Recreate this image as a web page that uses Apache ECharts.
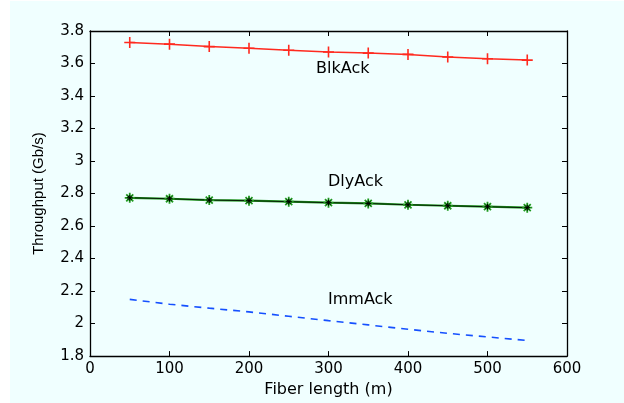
<!DOCTYPE html>
<html>
<head>
<meta charset="utf-8">
<script src="https://cdn.jsdelivr.net/npm/echarts@6/dist/echarts.min.js"></script>
<style>
  html, body { margin: 0; padding: 0; background: #ffffff; }
  #main { position: absolute; left: 10px; top: 1px; width: 614px; height: 402px; }
</style>
</head>
<body>
<div id="main"></div>
<script>
// длина волокна, м
let fiberLength = [50, 100, 150, 200, 250, 300, 350, 400, 450, 500, 550];

// пропускная способность, Гб/с
let blkAck = [3.729, 3.719, 3.704, 3.694, 3.682, 3.671, 3.664, 3.656, 3.640, 3.629, 3.621];
let dlyAck = [2.774, 2.768, 2.760, 2.756, 2.750, 2.744, 2.739, 2.731, 2.725, 2.719, 2.713];
let immAck = [2.149, 2.119, 2.095, 2.072, 2.045, 2.018, 1.992, 1.965, 1.940, 1.918, 1.896];

// подписи кривых на графике
let labelNames = ['BlkAck', 'DlyAck', 'ImmAck'];
let labelX = [318, 334, 340];
let labelY = [3.568, 2.870, 2.148];

const plusPath = 'path://M0,5L10,5M5,0L5,10';
const starPath = 'path://M0,5L10,5M5,0L5,10M1.5,1.5L8.5,8.5M8.5,1.5L1.5,8.5';

function pairs(values) {
    let out = [];
    fiberLength.forEach((x, i) => {
        out.push([x, values[i]]);
    });
    return out;
}

let labelData = [];
labelNames.forEach((n, i) => {
    labelData.push({
        coord: [labelX[i], labelY[i]],
        label: { formatter: n }
    });
});

let container = document.getElementById('main');
let chart = echarts.init(container);

const axisCommon = {
    type: 'value',
    axisLine: { show: true, onZero: false, lineStyle: { color: '#000', width: 1.3 } },
    axisTick: { show: true, inside: true, length: 5, lineStyle: { color: '#000' } },
    splitLine: { show: false },
    axisLabel: {
        color: '#000',
        fontFamily: 'DejaVu Sans',
        fontSize: 15,
        margin: 6
    }
};

const option = {
    backgroundColor: '#f0ffff',
    animation: false,
    grid: { left: 80, right: 57, top: 30, bottom: 44 },
    xAxis: [
        Object.assign({}, axisCommon, {
            min: 0, max: 600, interval: 100,
            position: 'bottom',
            name: 'Fiber length (m)',
            nameLocation: 'middle',
            nameGap: 22,
            nameTextStyle: { color: '#000', fontFamily: 'DejaVu Sans', fontSize: 16 }
        }),
        Object.assign({}, axisCommon, {
            min: 0, max: 600, interval: 100,
            position: 'top',
            axisLabel: { show: false }
        })
    ],
    yAxis: [
        Object.assign({}, axisCommon, {
            min: 1.8, max: 3.8, interval: 0.2,
            position: 'left',
            name: 'Throughput (Gb/s)',
            nameLocation: 'middle',
            nameGap: 44,
            nameTextStyle: { color: '#000', fontFamily: 'Liberation Sans', fontSize: 15 }
        }),
        Object.assign({}, axisCommon, {
            min: 1.8, max: 3.8, interval: 0.2,
            position: 'right',
            axisLabel: { show: false }
        })
    ],
    series: [
        {
            name: 'BlkAck',
            type: 'line',
            data: pairs(blkAck),
            symbol: plusPath,
            symbolSize: 11,
            showAllSymbol: true,
            lineStyle: { color: '#ff2a1f', width: 1.5 },
            itemStyle: { color: 'none', borderColor: '#ff2a1f', borderWidth: 1.6 },
            markPoint: {
                symbol: 'rect',
                symbolSize: 1,
                itemStyle: { color: 'rgba(0,0,0,0)' },
                label: {
                    show: true,
                    position: 'inside',
                    color: '#000',
                    fontFamily: 'DejaVu Sans',
                    fontSize: 16
                },
                data: labelData
            }
        },
        {
            name: 'DlyAck',
            type: 'line',
            data: pairs(dlyAck),
            symbol: starPath,
            symbolSize: 10,
            showAllSymbol: true,
            lineStyle: { color: '#1f9a1f', width: 2.2 },
            itemStyle: { color: 'none', borderColor: '#1f9a1f', borderWidth: 1.8 }
        },
        {
            name: 'DlyAck line',
            type: 'line',
            data: pairs(dlyAck),
            symbol: starPath,
            symbolSize: 6,
            showAllSymbol: true,
            lineStyle: { color: '#000', width: 0.8 },
            itemStyle: { color: 'none', borderColor: '#000', borderWidth: 1 }
        },
        {
            name: 'ImmAck',
            type: 'line',
            data: pairs(immAck),
            symbol: 'none',
            lineStyle: { color: '#1550ff', width: 1.6, type: [7, 6] }
        }
    ]
};

chart.setOption(option);
</script>
</body>
</html>
